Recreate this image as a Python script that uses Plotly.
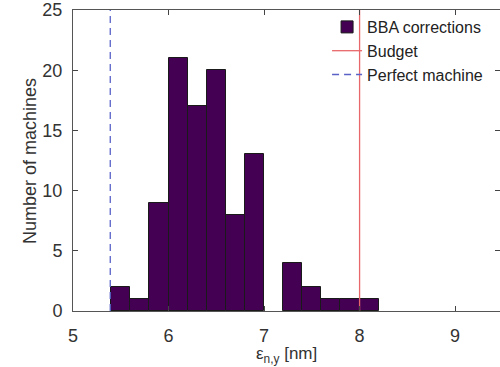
import plotly.graph_objects as go

bin_centers = [5.5, 5.7, 5.9, 6.1, 6.3, 6.5, 6.7, 6.9, 7.3, 7.5, 7.7, 7.9, 8.1]
counts = [2, 1, 9, 21, 17, 20, 8, 13, 4, 2, 1, 1, 1]
bin_width = 0.2
budget = 8.0
perfect = 5.39
x_ticks = [5, 6, 7, 8, 9]
y_ticks = [0, 5, 10, 15, 20, 25]

font = "Liberation Sans, Arial, sans-serif"
fig = go.Figure()
fig.add_trace(go.Bar(x=bin_centers, y=counts, width=bin_width, name="BBA corrections",
                     marker=dict(color="#440154", line=dict(color="#1a1a1a", width=1))))
fig.add_trace(go.Scatter(x=[budget, budget], y=[0, 25], mode="lines", name="Budget",
                         line=dict(color="#e8676b", width=1.3)))
fig.add_trace(go.Scatter(x=[perfect, perfect], y=[0, 25], mode="lines", name="Perfect machine",
                         line=dict(color="#5a62c8", width=1.3, dash="7px,5px")))

fig.update_layout(
    width=500, height=367,
    margin=dict(l=73, r=0, t=10, b=56, autoexpand=False),
    plot_bgcolor="white", paper_bgcolor="white",
    font=dict(family=font, size=18, color="#333333"),
    showlegend=True,
    legend=dict(x=0.595, y=1.0, xanchor="left", yanchor="top",
                bgcolor="rgba(255,255,255,0)", borderwidth=0,
                font=dict(size=16, color="#222222"), tracegroupgap=0,
                itemwidth=30),
    bargap=0,
    annotations=[
        dict(text="ε<sub>n,y</sub> [nm]", xref="paper", yref="paper", x=0.501, y=-0.146,
             xanchor="center", yanchor="middle", showarrow=False,
             font=dict(size=17, color="#333333")),
        dict(text="Number of machines", xref="paper", yref="paper", x=-0.102, y=0.5,
             xanchor="center", yanchor="middle", showarrow=False, textangle=-90,
             font=dict(size=18, color="#333333")),
    ],
)
fig.update_xaxes(range=[5, 9.47], tickvals=x_ticks, ticks="inside", ticklen=5,
                 showline=True, linecolor="#555555", linewidth=1, mirror="ticks",
                 showgrid=False, zeroline=False, automargin=False, ticklabelstandoff=8,
                 tickfont=dict(size=18, color="#333333"))
fig.update_yaxes(range=[0, 25], tickvals=y_ticks, ticks="inside", ticklen=5,
                 showline=True, linecolor="#555555", linewidth=1, mirror="ticks",
                 showgrid=False, zeroline=False, automargin=False, ticklabelstandoff=6,
                 tickfont=dict(size=18, color="#333333"))

fig.write_html("out.html", config={"displayModeBar": False},
               post_script="document.body.style.margin='0';document.body.style.overflow='hidden';")
